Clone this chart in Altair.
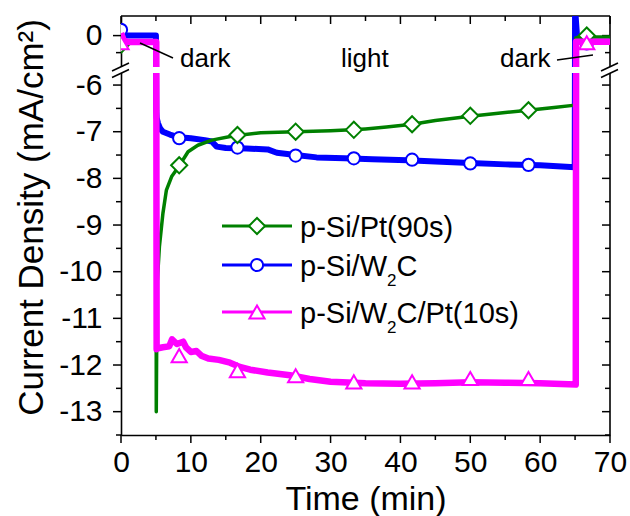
import altair as alt
import pandas as pd

# ---------------- data (current density in mA/cm^2 vs time in min) ----------------
marker_t = [0, 8.33, 16.67, 25, 33.33, 41.67, 50, 58.33, 66.67]

# p-Si/W2C
w2c_t = [0, 0.3, 0.8, 2.5, 5.0, 5.05, 5.1, 5.3, 5.6, 6.0, 7.0, 8.3, 10, 12, 13, 13.7,
         15, 18, 21, 22.3, 25, 28, 32, 36, 41, 45, 50, 55, 60, 64.95, 65.0, 65.3,
         65.6, 67, 70]
w2c_v = [0.17, 0.07, 0.0, 0.0, 0.0, -6.55, -6.7, -6.82, -6.93, -7.0, -7.06, -7.12,
         -7.14, -7.18, -7.21, -7.32, -7.35, -7.36, -7.38, -7.45, -7.5, -7.55, -7.57,
         -7.59, -7.61, -7.64, -7.67, -7.7, -7.72, -7.76, 0.8, -0.07, -0.16, -0.18, -0.18]
w2c_marker_v = [0.17, -7.14, -7.34, -7.51, -7.57, -7.6, -7.68, -7.71, -0.23]

# p-Si/Pt(90s)
pt_t = [0, 0.5, 2.5, 5.0, 5.05, 5.1, 5.2, 5.5, 6.0, 6.5, 7.25, 8.3, 9.6, 11, 13, 16,
        20, 25, 30, 33, 35, 38, 41.7, 45, 50, 55, 58.3, 62, 65.0, 65.1, 65.8, 66.7,
        67.5, 70]
pt_v = [-0.34, -0.23, -0.2, -0.2, -13.0, -11.8, -10.2, -9.46, -8.75, -8.25, -7.96,
        -7.74, -7.43, -7.29, -7.18, -7.09, -7.02, -7.0, -6.98, -6.96, -6.94, -6.9,
        -6.84, -6.76, -6.67, -6.59, -6.54, -6.48, -6.43, -0.07, -0.04, 0.0, -0.04, -0.04]
pt_marker_v = [-0.27, -7.72, -7.07, -7.0, -6.96, -6.84, -6.66, -6.54, 0.0]

# p-Si/W2C/Pt(10s)
w2cpt_t = [0, 0.4, 1.0, 5.05, 5.1, 5.3, 6.0, 6.9, 7.3, 8.0, 8.9, 9.3, 10.0, 10.8,
           11.5, 12.5, 14.0, 15.6, 17.0, 18.5, 21.0, 24.2, 27.0, 30, 35, 40, 45, 50,
           55, 60, 65.1, 65.15, 66, 70]
w2cpt_v = [0.07, -0.14, -0.19, -0.19, -11.66, -11.64, -11.62, -11.6, -11.45, -11.55,
           -11.5, -11.62, -11.72, -11.7, -11.8, -11.86, -11.89, -11.95, -12.04, -12.1,
           -12.16, -12.22, -12.3, -12.36, -12.39, -12.4, -12.39, -12.37, -12.38, -12.39,
           -12.42, -0.18, -0.18, -0.18]
w2cpt_marker_v = [-0.21, -11.8, -12.12, -12.23, -12.36, -12.36, -12.29, -12.29, -0.21]

x_major = [0, 10, 20, 30, 40, 50, 60, 70]
x_minor = [5, 15, 25, 35, 45, 55, 65]
y_major = [-13, -12, -11, -10, -9, -8, -7, -6, 0]
y_minor = [-13.5, -12.5, -11.5, -10.5, -9.5, -8.5, -7.5, -6.5, -0.5]

# ---------------- broken y axis: the dark-current segment near 0 sits above -6 ----------------
W, H = 489, 419
Y_BOTTOM, Y_TOP = -13.5, -4.52
UPPER_ZERO = -4.94     # axis position of 0 in the upper segment
UPPER_SCALE = 0.73     # the upper segment is drawn slightly compressed


def to_axis(v):
    return UPPER_ZERO + UPPER_SCALE * v if v > -3 else v


def frame(name, ts, vs):
    return pd.DataFrame({"t": ts, "v": [to_axis(v) for v in vs], "series": name})


FONT = "Liberation Sans"
GREEN, BLUE, MAGENTA = "#008000", "#0000ff", "#ff00ff"

xs = alt.Scale(domain=[0, 70], nice=False)
ys = alt.Scale(domain=[Y_BOTTOM, Y_TOP], nice=False, zero=False)

x_axis = alt.Axis(values=x_major, ticks=False, grid=False, domainColor="black",
                  domainWidth=1.6, labelFontSize=30, labelPadding=12, labelFlush=False,
                  labelOverlap=False, title="Time (min)", titleFontSize=34,
                  titleFontWeight="normal", titlePadding=5)
y_axis = alt.Axis(values=[to_axis(v) for v in y_major], ticks=False, grid=False,
                  domainColor="black", domainWidth=1.6, labelFontSize=30,
                  labelPadding=19, labelOverlap=False, labelFlush=False,
                  labelExpr="datum.value > -5.5 ? '0' : '-' + format(abs(datum.value), 'd')",
                  title="Current Density (mA/cm²)", titleFontSize=35,
                  titleFontWeight="normal", titlePadding=9, titleY=201)

X = alt.X("t:Q", scale=xs, axis=x_axis)
Y = alt.Y("v:Q", scale=ys, axis=y_axis)

one = pd.DataFrame({"k": [0]})


def seg(x1, y1, x2, y2, color="black", width=1.5):
    return alt.Chart(one).mark_rule(color=color, strokeWidth=width).encode(
        x=alt.value(x1), y=alt.value(y1), x2=alt.value(x2), y2=alt.value(y2))


def label(x, y, s, size=26, align="left", color="black"):
    return alt.Chart(one).mark_text(align=align, baseline="alphabetic", font=FONT,
                                    fontSize=size, color=color).encode(
        x=alt.value(x), y=alt.value(y), text=alt.value(s))


layers = []

# frame (top and right), left/bottom come from the axis domains
layers.append(seg(0, 0, W, 0, width=1.6))
layers.append(seg(W, 0, W, H, width=1.6))

# tick marks: outward on bottom/left, inward on top/right
xmaj = pd.DataFrame({"t": x_major})
xmin = pd.DataFrame({"t": x_minor})
ymaj = pd.DataFrame({"v": [to_axis(v) for v in y_major]})
ymin = pd.DataFrame({"v": [to_axis(v) for v in y_minor]})
for df, ln in ((xmaj, 8), (xmin, 5)):
    layers.append(alt.Chart(df).mark_rule(color="black", strokeWidth=1.5).encode(
        x=X, y=alt.value(H), y2=alt.value(H + ln)))
    layers.append(alt.Chart(df).mark_rule(color="black", strokeWidth=1.5).encode(
        x=X, y=alt.value(0), y2=alt.value(ln)))
for df, ln in ((ymaj, 8), (ymin, 5)):
    layers.append(alt.Chart(df).mark_rule(color="black", strokeWidth=1.5).encode(
        y=Y, x=alt.value(-ln), x2=alt.value(0)))
    layers.append(alt.Chart(df).mark_rule(color="black", strokeWidth=1.5).encode(
        y=Y, x=alt.value(W - ln), x2=alt.value(W)))

series = [
    ("p-Si/W2C", w2c_t, w2c_v, w2c_marker_v, BLUE, "circle", 150, 6),
    ("p-Si/Pt(90s)", pt_t, pt_v, pt_marker_v, GREEN, "diamond", 260, 3.5),
    ("p-Si/W2C/Pt(10s)", w2cpt_t, w2cpt_v, w2cpt_marker_v, MAGENTA, "triangle-up", 230, 6.5),
]
for name, ts, vs, mv, color, shape, size, lw in series:
    layers.append(alt.Chart(frame(name, ts, vs)).mark_line(
        color=color, strokeWidth=lw, clip=True, strokeJoin="round").encode(x=X, y=Y))
    layers.append(alt.Chart(frame(name, marker_t, mv)).mark_point(
        shape=shape, size=size, filled=True, fill="white", stroke=color,
        strokeWidth=2, opacity=1, clip=True).encode(x=X, y=Y))

# axis break: white gap plus the two slanted strokes on each side
layers.append(alt.Chart(one).mark_rect(color="white").encode(
    x=alt.value(-9), x2=alt.value(W + 9), y=alt.value(51), y2=alt.value(57)))
for cx in (0, W):
    layers.append(seg(cx - 9, 55, cx + 8, 47))
    layers.append(seg(cx - 9, 61.5, cx + 8, 53.5))

# period annotations
layers.append(seg(19, 27, 52, 42, width=1.4))
layers.append(label(59, 51, "dark"))
layers.append(label(220, 51, "light"))
layers.append(seg(436, 44, 472, 39, width=1.4))
layers.append(label(379, 51, "dark"))

# legend
ADV = {"p": 556, "-": 333, "S": 667, "i": 222, "/": 278, "W": 944, "2": 556, "C": 722,
       "P": 667, "t": 278, "(": 333, ")": 333, "1": 556, "0": 556, "9": 556, "s": 500}


def text_w(s, size):
    return sum(ADV[c] for c in s) / 1000 * size


LEG_SIZE, SUB_SIZE = 29, 17
legend_rows = [
    (GREEN, "diamond", 260, 210, ["p-Si/Pt(90s)"]),
    (BLUE, "circle", 150, 249, ["p-Si/W", "2", "C"]),
    (MAGENTA, "triangle-up", 230, 296, ["p-Si/W", "2", "C/Pt(10s)"]),
]
for color, shape, size, ly, parts in legend_rows:
    layers.append(seg(101, ly, 171, ly, color=color, width=3))
    layers.append(alt.Chart(one).mark_point(
        shape=shape, size=size, filled=True, fill="white", stroke=color,
        strokeWidth=2, opacity=1).encode(x=alt.value(136), y=alt.value(ly)))
    x0 = 179
    base = ly + 10.5
    for i, p in enumerate(parts):
        if i == 1:
            layers.append(label(x0, base + 10, p, size=SUB_SIZE))
            x0 += text_w(p, SUB_SIZE)
        else:
            layers.append(label(x0, base, p, size=LEG_SIZE))
            x0 += text_w(p, LEG_SIZE)

chart = alt.layer(*layers).properties(
    width=W, height=H,
    padding={"left": 121, "top": 16, "right": 20, "bottom": 81},
    autosize=alt.AutoSizeParams(type="none"),
).configure_view(stroke=None).configure_axis(
    labelFont=FONT, titleFont=FONT, labelColor="black", titleColor="black"
)

chart.save("out.html", embed_options={"renderer": "svg", "actions": False})
